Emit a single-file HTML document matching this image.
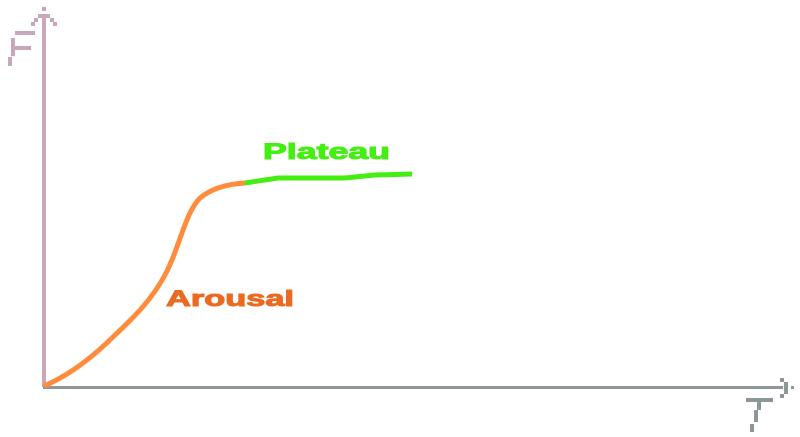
<!DOCTYPE html>
<html><head><style>
html,body{margin:0;padding:0;background:#fff;width:800px;height:437px;overflow:hidden}
</style></head><body>
<svg width="800" height="437" xmlns="http://www.w3.org/2000/svg">
<g fill="#c9a7b9">
<rect x="42" y="14" width="4" height="373"/>
<rect x="42" y="7" width="4" height="4"/>
<rect x="38" y="14" width="12" height="4"/>
<rect x="34" y="18" width="4" height="4"/><rect x="50" y="18" width="4" height="4"/>
<rect x="31" y="22" width="4" height="4"/><rect x="53" y="22" width="4" height="4"/>
<rect x="15" y="31" width="20" height="4"/>
<rect x="11" y="38" width="4" height="18"/>
<rect x="15" y="46" width="16" height="4"/>
<rect x="8" y="57" width="4" height="9"/>
</g>
<g fill="#8c9898">
<rect x="43" y="386" width="740" height="3"/>
<rect x="780" y="378" width="4" height="4"/><rect x="784" y="382" width="4" height="12"/><rect x="780" y="394" width="4" height="4"/>
<rect x="791" y="386" width="3" height="3"/>
<rect x="746" y="398" width="27" height="4"/>
<rect x="757" y="402" width="4" height="8"/>
<rect x="754" y="410" width="4" height="12"/>
<rect x="750" y="424" width="4" height="8"/>
</g>
<path d="M44,386 C70,375 95,355 115,335 C140,312 160,290 172,260 C182,235 188,210 200,198 C212,188 228,184 245,183" fill="none" stroke="#ff8c3c" stroke-width="5"/>
<path d="M245,183 L278,178 L345,178 L375,175 L412,174" fill="none" stroke="#44ee11" stroke-width="5"/>
<text x="263" y="159" textLength="127" lengthAdjust="spacingAndGlyphs" font-family="Liberation Sans, sans-serif" font-weight="bold" font-size="22" fill="#44ee11" stroke="#44ee11" stroke-width="1">Plateau</text>
<text x="166" y="306" textLength="128" lengthAdjust="spacingAndGlyphs" font-family="Liberation Sans, sans-serif" font-weight="bold" font-size="22" fill="#ea6a22" stroke="#ea6a22" stroke-width="1">Arousal</text>
</svg>
</body></html>
